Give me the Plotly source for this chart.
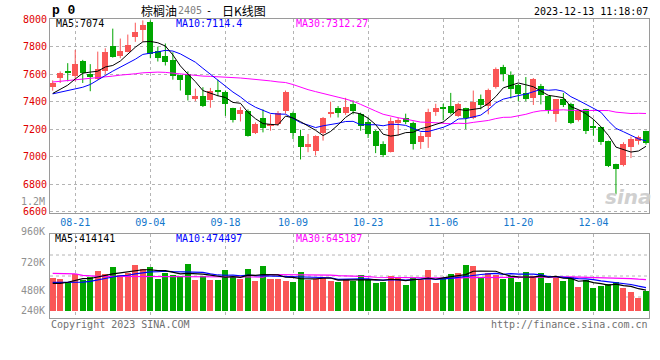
import plotly.graph_objects as go
import pandas as pd

# ---------------- data ----------------
month_days = [
    "08-16", "08-17", "08-18", "08-21", "08-22", "08-23", "08-24", "08-25", "08-28", "08-29", "08-30", "08-31",
    "09-01", "09-04", "09-05", "09-06", "09-07", "09-08", "09-11", "09-12", "09-13", "09-14", "09-15",
    "09-18", "09-19", "09-20", "09-21", "09-22", "09-25", "09-26", "09-27", "09-28",
    "10-09", "10-10", "10-11", "10-12", "10-13", "10-16", "10-17", "10-18", "10-19", "10-20",
    "10-23", "10-24", "10-25", "10-26", "10-27", "10-30", "10-31",
    "11-01", "11-02", "11-03", "11-06", "11-07", "11-08", "11-09", "11-10", "11-13", "11-14", "11-15",
    "11-16", "11-17", "11-20", "11-21", "11-22", "11-23", "11-24", "11-27", "11-28", "11-29", "11-30",
    "12-01", "12-04", "12-05", "12-06", "12-07", "12-08", "12-11", "12-12", "12-13",
]
dates = ["2023-" + d for d in month_days]

opens = [7505, 7572, 7624, 7584, 7696, 7601, 7567, 7620, 7804, 7732,
         7764, 7871, 7919, 7979, 7768, 7732, 7704, 7591, 7601, 7416,
         7445, 7409, 7486, 7471, 7352, 7308, 7332, 7172, 7280, 7229,
         7237, 7332, 7316, 7148, 7074, 7045, 7172, 7311, 7352, 7316,
         7380, 7308, 7253, 7189, 7093, 7038, 7246, 7285, 7244, 7110,
         7146, 7325, 7364, 7368, 7297, 7352, 7280, 7416, 7368, 7505,
         7649, 7596, 7519, 7464, 7428, 7517, 7440, 7308, 7416, 7380,
         7265, 7344, 7220, 7213, 7117, 6949, 6937, 7074, 7117, 7184]
highs = [7555, 7620, 7680, 7776, 7704, 7673, 7764, 7788, 7931, 7859,
         7888, 7974, 7991, 7991, 7800, 7823, 7759, 7596, 7620, 7495,
         7505, 7500, 7560, 7481, 7356, 7361, 7344, 7249, 7344, 7308,
         7332, 7481, 7328, 7196, 7165, 7155, 7289, 7400, 7368, 7428,
         7409, 7320, 7285, 7194, 7112, 7285, 7285, 7313, 7256, 7177,
         7349, 7385, 7385, 7464, 7392, 7356, 7481, 7452, 7495, 7649,
         7668, 7620, 7529, 7579, 7572, 7529, 7440, 7416, 7464, 7392,
         7344, 7349, 7273, 7218, 7117, 6949, 7105, 7146, 7153, 7189]
lows = [7480, 7536, 7548, 7548, 7536, 7476, 7560, 7601, 7720, 7716,
        7759, 7835, 7835, 7716, 7692, 7663, 7560, 7481, 7409, 7404,
        7361, 7356, 7440, 7297, 7249, 7256, 7146, 7165, 7177, 7189,
        7225, 7313, 7129, 6980, 7033, 7009, 7117, 7285, 7285, 7304,
        7308, 7189, 7136, 7026, 6997, 7031, 7153, 7237, 7052, 7057,
        7064, 7297, 7265, 7308, 7289, 7201, 7273, 7344, 7308, 7495,
        7548, 7423, 7404, 7404, 7376, 7380, 7313, 7253, 7361, 7237,
        7256, 7165, 7153, 7086, 6925, 6727, 6930, 6990, 7088, 7088]
closes = [7536, 7608, 7610, 7673, 7608, 7577, 7639, 7764, 7728, 7768,
          7811, 7907, 7960, 7744, 7720, 7692, 7584, 7560, 7447, 7445,
          7368, 7481, 7474, 7385, 7265, 7337, 7153, 7241, 7208, 7237,
          7320, 7471, 7172, 7074, 7093, 7150, 7280, 7320, 7316, 7364,
          7332, 7225, 7165, 7081, 7016, 7261, 7265, 7253, 7093, 7148,
          7325, 7352, 7344, 7316, 7385, 7285, 7400, 7376, 7488, 7639,
          7601, 7495, 7457, 7423, 7567, 7447, 7337, 7416, 7376, 7244,
          7337, 7189, 7213, 7105, 6930, 6913, 7093, 7129, 7143, 7100]
volumes = [673, 646, 592, 741, 626, 680, 809, 748, 891, 728,
           775, 932, 850, 891, 646, 775, 728, 714, 952, 626,
           707, 626, 626, 830, 680, 646, 850, 605, 911, 646,
           646, 605, 585, 789, 626, 646, 666, 605, 585, 646,
           605, 728, 626, 564, 585, 707, 687, 524, 666, 626,
           830, 564, 666, 748, 768, 932, 911, 680, 775, 728,
           646, 707, 585, 789, 707, 768, 564, 666, 605, 687,
           483, 626, 462, 503, 544, 585, 462, 388, 265, 408]
volumes = [v * 1000 for v in volumes]

# moving-average values visible at the left edge (history before the window)
ma5_head = [7460, 7490, 7520, 7565]
ma10_head = [7457, 7468, 7480, 7492, 7505, 7525, 7555, 7590, 7622]
ma30_head = [7543, 7548, 7553, 7558, 7562, 7570, 7574, 7579, 7586, 7593,
             7596, 7603, 7610, 7615, 7615, 7613, 7608, 7601, 7593, 7589,
             7586, 7584, 7582, 7579, 7577, 7572, 7567, 7562, 7560]
vma5_head = [558000, 558000, 580000, 615000]
vma10_head = [578000, 578000, 578000, 571000, 585000, 598000, 632000, 653000, 687000]
vma30_head = [762000, 760000, 758000, 752000, 720000, 705000, 700000, 700000, 700000, 700000,
              700000, 700000, 700000, 700000, 697000, 695000, 693000, 690000, 690000, 690000,
              690000, 688000, 688000, 688000, 688000, 687000, 687000, 687000, 687000]

x_tick_dates = ["2023-08-21", "2023-09-04", "2023-09-18", "2023-10-09",
                "2023-10-23", "2023-11-06", "2023-11-20", "2023-12-04"]
x_tick_text = ["08-21", "09-04", "09-18", "10-09", "10-23", "11-06", "11-20", "12-04"]
price_ticks = [6600, 6800, 7000, 7200, 7400, 7600, 7800, 8000]
vol_tick_text = ["960K", "720K", "480K", "240K"]

title_name = "棕榈油"
title_code = "2405"
title_kind = "日K线图"
timestamp = "2023-12-13 11:18:07"
ma_last = {"MA5": "7074", "MA10": "7114.4", "MA30": "7312.27"}
vma_last = {"MA5": "414141", "MA10": "474497", "MA30": "645187"}

# ---------------- derived ----------------
def moving_avg(vals, n, head):
    s = pd.Series(vals, dtype=float).rolling(n).mean().tolist()
    return list(head) + s[n - 1:]

ma5 = moving_avg(closes, 5, ma5_head)
ma10 = moving_avg(closes, 10, ma10_head)
ma30 = moving_avg(closes, 30, ma30_head)
vma5 = moving_avg(volumes, 5, vma5_head)
vma10 = moving_avg(volumes, 10, vma10_head)
vma30 = moving_avg(volumes, 30, vma30_head)

RED = "#fa5656"
GREEN = "#00a600"
up = [c >= o for o, c in zip(opens, closes)]

fig = go.Figure()

# wicks
for flag, col in ((True, RED), (False, GREEN)):
    wx, wy = [], []
    for d, h, l, u in zip(dates, highs, lows, up):
        if u == flag:
            wx += [d, d, None]
            wy += [l, h, None]
    fig.add_trace(go.Scatter(x=wx, y=wy, mode="lines", line=dict(color=col, width=1),
                             hoverinfo="skip", showlegend=False, xaxis="x", yaxis="y"))

# bodies
for flag, col in ((True, RED), (False, GREEN)):
    bx, bb, bh = [], [], []
    for d, o, c, u in zip(dates, opens, closes, up):
        if u == flag:
            bx.append(d)
            bb.append(min(o, c))
            bh.append(max(abs(c - o), 4))
    fig.add_trace(go.Bar(x=bx, y=bh, base=bb, width=0.8, marker=dict(color=col, line=dict(width=0)),
                         showlegend=False, xaxis="x", yaxis="y"))

for ma, col in ((ma30, "#ff00ff"), (ma10, "#0000ff"), (ma5, "#000000")):
    fig.add_trace(go.Scatter(x=dates, y=ma, mode="lines", line=dict(color=col, width=1),
                             showlegend=False, xaxis="x", yaxis="y"))

# volume
fig.add_trace(go.Bar(x=dates, y=volumes, width=0.8,
                     marker=dict(color=[RED if u else GREEN for u in up], line=dict(width=0)),
                     showlegend=False, xaxis="x2", yaxis="y2"))
for ma, col in ((vma30, "#ff00ff"), (vma10, "#0000ff"), (vma5, "#000000")):
    fig.add_trace(go.Scatter(x=dates, y=ma, mode="lines", line=dict(color=col, width=1.2),
                             showlegend=False, xaxis="x2", yaxis="y2"))

# ---------------- layout ----------------
L, R, T, B = 50, 649, 19, 318
W, H = 660, 360
def px(x):
    return (x - L) / (R - L)
def py(y):
    return (B - y) / (B - T)

main_bottom = py(213)
vol_top = py(234)

MONO = "DejaVu Sans Mono"
GRID = "#b4b4b4"
BORDER = "#9a9a9a"

xcommon = dict(type="category", categoryorder="array", categoryarray=dates,
               range=[-0.36, 79.4], tickvals=x_tick_dates, tickangle=0,
               showgrid=True, gridcolor=GRID, griddash="dot", gridwidth=1,
               showline=True, linecolor=BORDER, linewidth=1, mirror=True, ticks="",
               zeroline=False, fixedrange=True)
fig.update_layout(
    width=W, height=H,
    margin=dict(l=L, r=W - R, t=T, b=H - B),
    paper_bgcolor="white", plot_bgcolor="white",
    bargap=0, barmode="overlay",
    xaxis=dict(**xcommon, domain=[0, 1], anchor="y", ticktext=x_tick_text, showticklabels=True,
               tickfont=dict(family=MONO, size=10, color="#1477cc")),
    yaxis=dict(domain=[main_bottom, 1], range=[6591, 8001], tickvals=price_ticks,
               ticktext=[str(v) for v in price_ticks], showgrid=True, gridcolor=GRID, griddash="dot",
               showline=True, linecolor=BORDER, linewidth=1, mirror=True, ticks="",
               tickfont=dict(family=MONO, size=10, color="#e00000"), zeroline=False),
    xaxis2=dict(**xcommon, domain=[0, 1], anchor="y2", matches="x", showticklabels=False),
    yaxis2=dict(domain=[0, vol_top], range=[-149000, 1565000], showgrid=False, showticklabels=False,
                showline=True, linecolor=BORDER, linewidth=1, mirror=True, ticks="", zeroline=False),
    showlegend=False,
)

for f in (0.25, 0.5, 0.75):
    fig.add_shape(type="line", xref="x2 domain", yref="y2 domain", x0=0, x1=1, y0=f, y1=f,
                  line=dict(color=GRID, width=1, dash="dot"), layer="below")

def ann(text, x, y, color="#000", size=10, family=MONO, xanchor="left", **kw):
    fig.add_annotation(text=text, x=px(x), y=py(y), xref="paper", yref="paper",
                       xanchor=xanchor, yanchor="middle", showarrow=False,
                       font=dict(family=family, size=size, color=color), **kw)

ann("<b>p 0</b>", 50, 10, size=13, family="Liberation Mono")
ann(title_name, 139, 10, size=12, family="Noto Sans CJK SC")
ann(title_code, 176, 10, color="#808080", size=10)
ann("-", 204, 10, size=10)
ann(title_kind, 220, 10, size=12, family="Noto Sans CJK SC")
ann(timestamp, 650, 11, xanchor="right")

ann("MA5:" + ma_last["MA5"], 54, 24)
ann("MA10:" + ma_last["MA10"], 174, 24, color="#0000ff")
ann("MA30:" + ma_last["MA30"], 294, 24, color="#ff00ff")

ann("MA5:" + vma_last["MA5"], 53, 238)
ann("MA10:" + vma_last["MA10"], 174, 238, color="#0000ff")
ann("MA30:" + vma_last["MA30"], 294, 238, color="#ff00ff")

ann("1.2M", 47, 201, color="#909090", xanchor="right")
for t, yy in zip(vol_tick_text, [231, 262, 290, 310]):
    ann(t, 47, yy, color="#909090", xanchor="right")

ann("Copyright 2023 SINA.COM", 49, 324, color="#707070")
ann("http://finance.sina.com.cn", 650, 324, color="#707070", xanchor="right")
ann("<b><i>sina</i></b>", 628, 197, color="#d0d0d0", size=20, family="DejaVu Sans", xanchor="center")

fig.write_html("out.html", config={"displayModeBar": False},
               post_script="document.body.style.margin='0';document.body.style.overflow='hidden';")
